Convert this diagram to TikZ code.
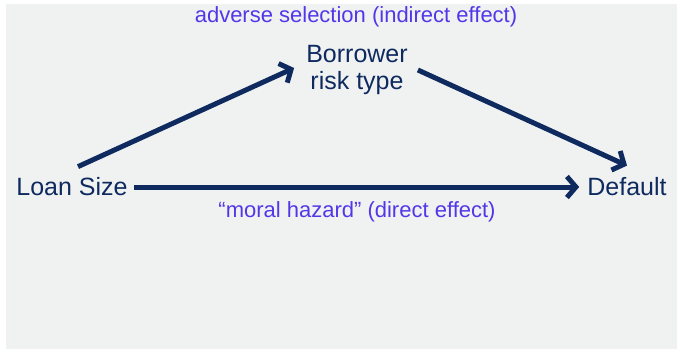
\documentclass[tikz,border=0pt]{standalone}
\usepackage{fontspec}
\setmainfont{Liberation Sans}
\usepackage{xcolor}
\usetikzlibrary{arrows.meta,positioning}
\definecolor{navy}{HTML}{0E2A5E}
\definecolor{notecol}{HTML}{5038E8}
\definecolor{bgcol}{HTML}{F0F2F2}
\tikzset{
  term/.style={
    align=center,
    inner sep=6pt,
    text=navy,
    font=\fontsize{25}{27}\selectfont
  },
  note/.style={
    inner sep=2pt,
    text=notecol,
    font=\fontsize{22}{24}\selectfont
  },
  flow/.style={-{Straight Barb[length=9pt,width=21pt,line width=5pt]}, line width=5pt, navy}
}
\begin{document}
\begin{tikzpicture}[x=1pt,y=1pt]
  \fill[white] (0,0) rectangle (677,349);
  \fill[bgcol] (6,0) rectangle (677,345);
  \useasboundingbox (0,0) rectangle (677,349);

  \node[term] (size) at (72,162) {Loan Size};
  \node[term] (dflt) at (627,162) {Default};
  \node[term] (risk) at (357,279) {Borrower\\risk type};
  \node[note] (adv) at (356,332) {adverse selection (indirect effect)};
  \node[note] (moral) at (357,137) {“moral hazard” (direct effect)};

  \draw[flow] (size) -- ([xshift=-2pt]dflt.west);
  \draw[flow] ([xshift=6pt,yshift=5pt]size.north) -- ([xshift=-6pt,yshift=2pt]risk.west);
  \draw[flow] ([xshift=4pt]risk.east) -- ([yshift=6pt]dflt.north);
\end{tikzpicture}
\end{document}
